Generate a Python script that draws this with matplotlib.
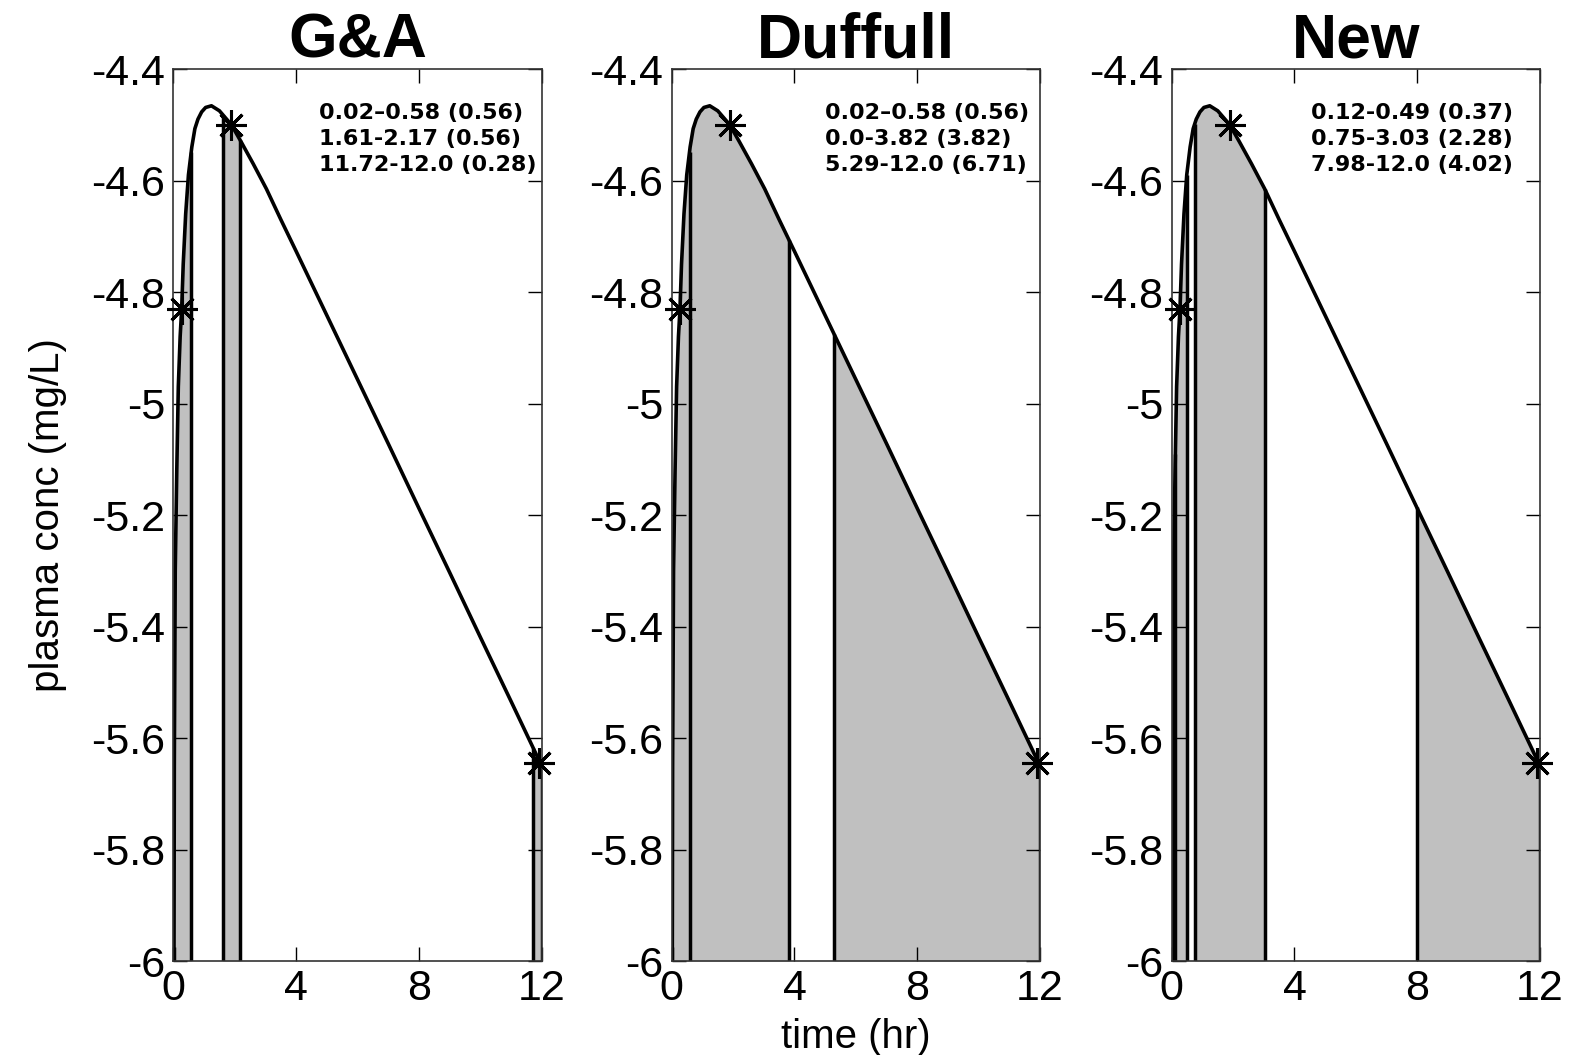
import numpy as np
import matplotlib
matplotlib.use("Agg")
from matplotlib import pyplot as plt

plt.rcParams['font.family'] = ['Liberation Sans', 'DejaVu Sans']
plt.rcParams['axes.unicode_minus'] = False

# log plasma concentration vs time
t_curve = [0.01, 0.03, 0.06, 0.11, 0.16, 0.22, 0.27, 0.32, 0.40, 0.49, 0.60, 0.70, 0.80,
           0.92, 1.05, 1.24, 1.50, 1.89, 2.20, 2.60, 3.03, 3.50, 4.0, 5.0, 6.0, 7.0,
           8.0, 9.0, 10.0, 11.0, 12.0]
c_curve = [-6.3, -5.65, -5.3, -5.12, -4.97, -4.88, -4.83, -4.75, -4.66, -4.59, -4.54, -4.507, -4.49,
           -4.477, -4.469, -4.466, -4.475, -4.50, -4.53, -4.57, -4.615, -4.67, -4.727, -4.842, -4.957, -5.072,
           -5.188, -5.303, -5.419, -5.534, -5.65]

# sampling times (stars)
t_star = [0.27, 1.89, 11.9]
c_star = [-4.83, -4.50, -5.645]

titles = ["G&A", "Duffull", "New"]
intervals = [
    [(0.02, 0.58), (1.61, 2.17), (11.72, 12.0)],
    [(0.02, 0.58), (0.0, 3.82), (5.29, 12.0)],
    [(0.12, 0.49), (0.75, 3.03), (7.98, 12.0)],
]
notes = [
    ["0.02\u20130.58 (0.56)", "1.61-2.17 (0.56)", "11.72-12.0 (0.28)"],
    ["0.02\u20130.58 (0.56)", "0.0-3.82 (3.82)", "5.29-12.0 (6.71)"],
    ["0.12-0.49 (0.37)", "0.75-3.03 (2.28)", "7.98-12.0 (4.02)"],
]
note_x = [4.75, 5.0, 4.55]
note_y = [-4.479, -4.526, -4.573]

tc = np.array(t_curve)
cc = np.array(c_curve)
ymin, ymax = -6.0, -4.4

fig = plt.figure(figsize=(15.79, 10.55), dpi=100)
lefts = [173.4 / 1579, 671.7 / 1579, 1171.7 / 1579]
w = 368.3 / 1579
bottom = 1 - 961 / 1055
h = 892 / 1055

for i in range(3):
    ax = fig.add_axes([lefts[i], bottom, w, h])
    # shaded sampling windows
    for a, b in intervals[i]:
        inside = (tc > a) & (tc < b)
        xs = np.concatenate([[a], tc[inside], [b]])
        ys = np.concatenate([[np.interp(a, tc, cc)], cc[inside], [np.interp(b, tc, cc)]])
        ax.fill_between(xs, ymin, ys, color='#c0c0c0', lw=0)
    for a, b in intervals[i]:
        for e in (a, b):
            ax.vlines(e, ymin, np.interp(e, tc, cc), color='k', lw=2.5)
    ax.plot(tc, cc, color='k', lw=2.6)
    ax.plot(t_star, c_star, ls='none', marker=(8, 2, 0), ms=22, mew=2.2, color='k',
            clip_on=False, zorder=5)
    for s, yy in zip(notes[i], note_y):
        ax.text(note_x[i], yy, s, family='DejaVu Sans', fontsize=16, fontweight='bold',
                va='center', ha='left')

    ax.set_xlim(0, 12)
    ax.set_ylim(ymin, ymax)
    ax.set_xticks([0, 4, 8, 12])
    ax.set_yticks(np.arange(-6, -4.39, 0.2))
    ax.yaxis.set_major_formatter(matplotlib.ticker.FormatStrFormatter('%g'))
    ax.tick_params(direction='in', top=True, right=True, length=10, width=1,
                   labelsize=31, pad=6)
    for sp in ax.spines.values():
        sp.set_linewidth(1.2)
        sp.set_color('#333333')
    ax.set_title(titles[i], fontsize=45, fontweight='bold', pad=8)
    if i == 0:
        ax.set_ylabel("plasma conc (mg/L)", fontsize=29)
        ax.yaxis.set_label_coords(-0.29, 0.5)
    if i == 1:
        ax.set_xlabel("time (hr)", fontsize=29, labelpad=6)

fig.savefig("out.png", dpi=100)
